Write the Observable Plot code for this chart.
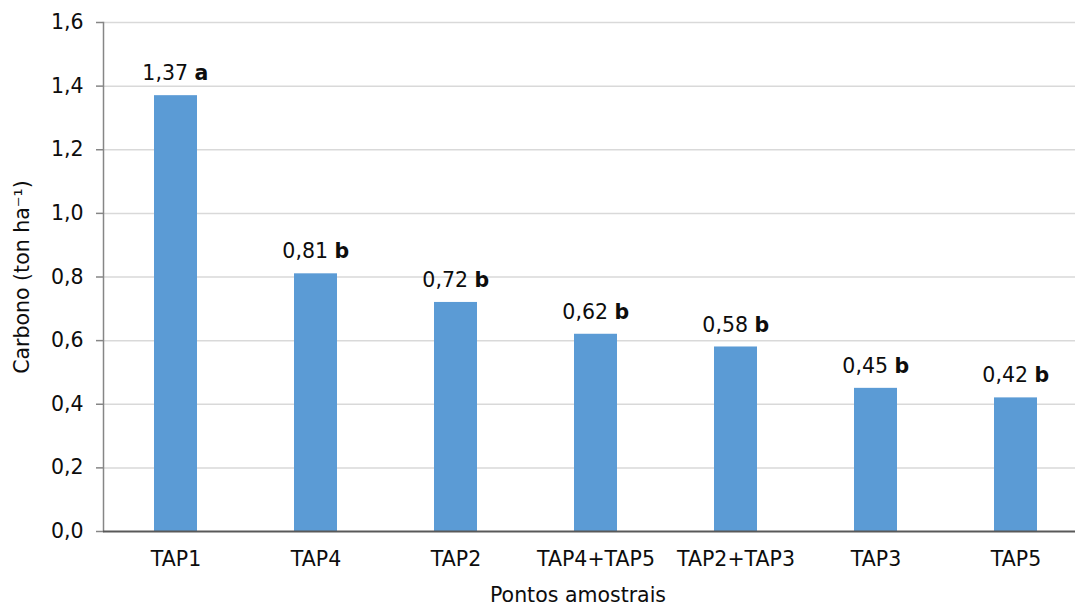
<!DOCTYPE html>
<html>
<head>
<meta charset="utf-8">
<script src="https://cdn.jsdelivr.net/npm/d3@7"></script>
<script src="https://cdn.jsdelivr.net/npm/@observablehq/plot@0.6"></script>
<style>
  html, body { margin: 0; padding: 0; background: #fff; }
  #chart svg { display: block; }
</style>
</head>
<body>
<div id="chart"></div>
<script>
// Carbon stock per sampling point, with the significance group letter
const categories = ["TAP1", "TAP4", "TAP2", "TAP4+TAP5", "TAP2+TAP3", "TAP3", "TAP5"];
const values = [1.37, 0.81, 0.72, 0.62, 0.58, 0.45, 0.42];
const letters = ["a", "b", "b", "b", "b", "b", "b"];
const yTicks = [0, 0.2, 0.4, 0.6, 0.8, 1.0, 1.2, 1.4, 1.6];
const yLabel = "Carbono (ton ha⁻¹)";
const xLabel = "Pontos amostrais";

const data = categories.map((c, i) => ({ponto: c, carbono: values[i], grupo: letters[i]}));

// Portuguese decimal comma
const fmt1 = d => d.toFixed(1).replace(".", ",");
const fmt2 = d => d.toFixed(2).replace(".", ",");

const chart = Plot.plot({
  width: 1075,
  height: 609,
  marginTop: 22,
  marginBottom: 78,
  marginLeft: 103,
  marginRight: 0,
  style: {fontFamily: "DejaVu Sans", fontSize: "20.5px", color: "#0d0d0d", background: "#fff"},
  x: {domain: categories, range: [103, 1088], paddingInner: 0.69, paddingOuter: 0.345, label: null},
  y: {domain: [0, 1.6], label: null},
  marks: [
    Plot.ruleY(yTicks.filter(t => t > 0), {stroke: "#d9d9d9", strokeWidth: 1.5}),
    Plot.barY(data, {x: "ponto", y: "carbono", fill: "#5b9bd5"}),
    Plot.frame({anchor: "left", stroke: "#868686", strokeWidth: 1.5}),
    Plot.ruleY([0], {stroke: "#595959", strokeWidth: 2}),
    Plot.axisY({ticks: yTicks, tickFormat: fmt1, tickSize: 7, tickPadding: 13, label: null, stroke: "#868686", strokeWidth: 1.5}),
    Plot.axisX({tickSize: 0, tickPadding: 20, label: null}),
    // value and group letter above each bar
    Plot.text(data, {x: "ponto", y: "carbono", text: d => fmt2(d.carbono), textAnchor: "end", dx: 12, dy: -22}),
    Plot.text(data, {x: "ponto", y: "carbono", text: "grupo", textAnchor: "start", dx: 18.5, dy: -22, fontWeight: "bold"}),
    // axis titles
    Plot.text([yLabel], {frameAnchor: "left", rotate: -90, dx: -81, textAnchor: "middle", lineAnchor: "middle"}),
    Plot.text([xLabel], {frameAnchor: "bottom", dx: -11.5, dy: 63.5, textAnchor: "middle", lineAnchor: "middle"})
  ]
});

document.getElementById("chart").appendChild(chart);
</script>
</body>
</html>
